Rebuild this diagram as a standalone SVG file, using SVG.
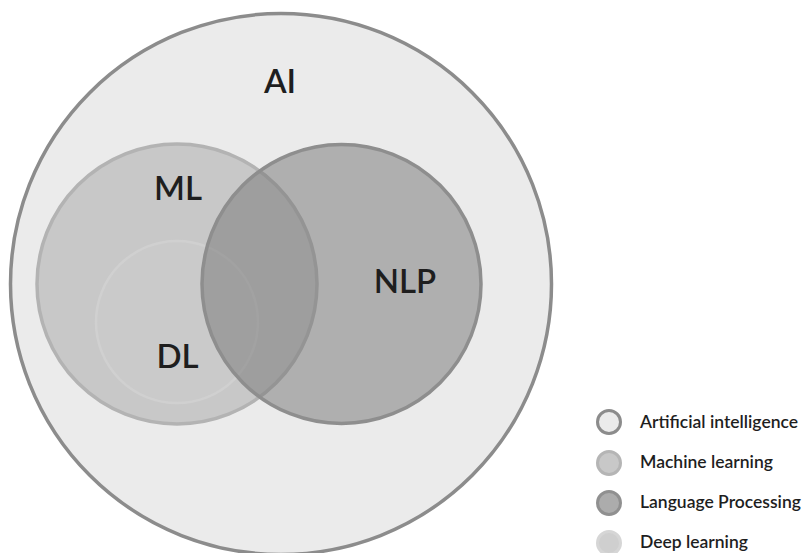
<svg xmlns="http://www.w3.org/2000/svg" width="810" height="553" viewBox="0 0 810 553">
<style>
.lbl{font-family:Lato,"Liberation Sans",sans-serif;font-weight:600;fill:#1e1e1e;text-anchor:middle}
.big{font-size:33px}
.leg{font-family:Lato,"Liberation Sans",sans-serif;font-weight:600;font-size:17.5px;fill:#1e1e1e}
</style>
<rect width="810" height="553" fill="#ffffff"/>
<g id="ai">
<circle cx="281" cy="284" r="270.5" fill="#ebebeb" stroke="#8c8c8c" stroke-width="3.5"/>
<text class="lbl big" x="280" y="93">AI</text>
</g>
<g id="ml">
<circle cx="177" cy="284" r="140" fill="#c8c8c8" stroke="#b3b3b3" stroke-width="3.5"/>
<text class="lbl big" x="178" y="200">ML</text>
</g>
<g id="dl">
<circle cx="177" cy="322" r="81" fill="#cacaca" stroke="#d0d0d0" stroke-width="2.5"/>
<text class="lbl big" x="177.5" y="368">DL</text>
</g>
<g id="nlp">
<circle cx="341.5" cy="284" r="139.5" fill="#767676" fill-opacity="0.51" stroke="#8e8e8e" stroke-width="3.5"/>
<text class="lbl big" x="405" y="292.5">NLP</text>
</g>
<g id="legend">
<circle cx="609" cy="422" r="11.5" fill="#ebebeb" stroke="#8c8c8c" stroke-width="3"/>
<text class="leg" x="640" y="428">Artificial intelligence</text>
<circle cx="609" cy="463" r="11.5" fill="#c8c8c8" stroke="#b5b5b5" stroke-width="3"/>
<text class="leg" x="640" y="468">Machine learning</text>
<circle cx="609" cy="503" r="11.5" fill="#acacac" stroke="#909090" stroke-width="3"/>
<text class="leg" x="640" y="508">Language Processing</text>
<circle cx="609" cy="543" r="11.5" fill="#cfcfcf" stroke="#d6d6d6" stroke-width="3"/>
<text class="leg" x="640" y="548">Deep learning</text>
</g>
<g id="connectors"/>
</svg>
